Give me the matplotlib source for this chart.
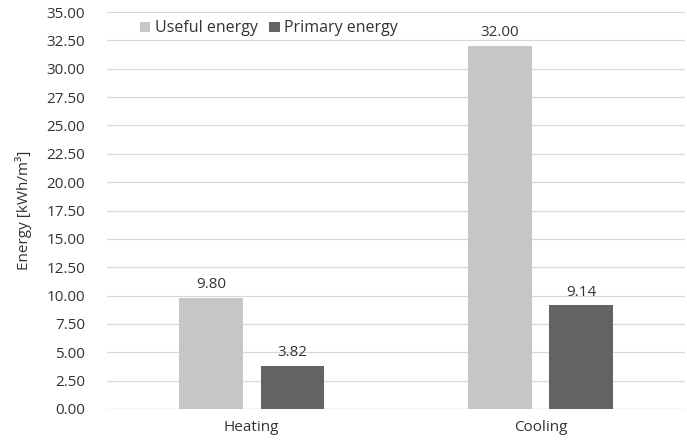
import matplotlib
matplotlib.use('Agg')
from matplotlib import pyplot as plt
import numpy as np

plt.rcParams['font.family'] = ['Open Sans', 'DejaVu Sans']
plt.rcParams['font.size'] = 11

categories = ['Heating', 'Cooling']
useful = [9.80, 32.00]
primary = [3.82, 9.14]
series_names = ['Useful energy', 'Primary energy']

col_useful = '#c5c6c8'
col_primary = '#636363'
text_col = '#333333'

fig = plt.figure(figsize=(6.87, 4.46), dpi=100)
ax = fig.add_axes([0.156, 0.083, 0.841, 0.890])

x = np.arange(len(categories))
w = 0.22
gap = 0.062
b1 = ax.bar(x - (w + gap) / 2, useful, w, color=col_useful, label=series_names[0], zorder=3)
b2 = ax.bar(x + (w + gap) / 2, primary, w, color=col_primary, label=series_names[1], zorder=3)

# value labels above each bar
for bars, vals in [(b1, useful), (b2, primary)]:
    for r, v in zip(bars, vals):
        ax.text(r.get_x() + r.get_width() / 2, v + 0.5, f'{v:.2f}',
                ha='center', va='bottom', color=text_col)

ax.set_xlim(-0.5, 1.5)
ax.set_ylim(0, 35)
yt = np.arange(0, 35.01, 2.5)
ax.set_yticks(yt)
ax.set_yticklabels([f'{t:.2f}' for t in yt])
ax.set_xticks(x)
ax.set_xticklabels(categories)
ax.grid(axis='y', color='#d9d9d9', linewidth=0.9, zorder=0)
ax.tick_params(length=0, colors=text_col)
ax.tick_params(axis='y', pad=16)
ax.tick_params(axis='x', pad=8)
for s in ax.spines.values():
    s.set_visible(False)
ax.axhline(0, color='#d9d9d9', linewidth=0.9, zorder=1)

ax.set_ylabel('Energy [kWh/m³]', color=text_col, labelpad=10)

ax.legend(loc='upper left', bbox_to_anchor=(0.032, 1.015), ncol=2, frameon=False,
          handlelength=0.65, handleheight=0.65, handletextpad=0.3, columnspacing=0.7,
          labelcolor=text_col, fontsize=11.5)

fig.savefig('out.png', dpi=100)
